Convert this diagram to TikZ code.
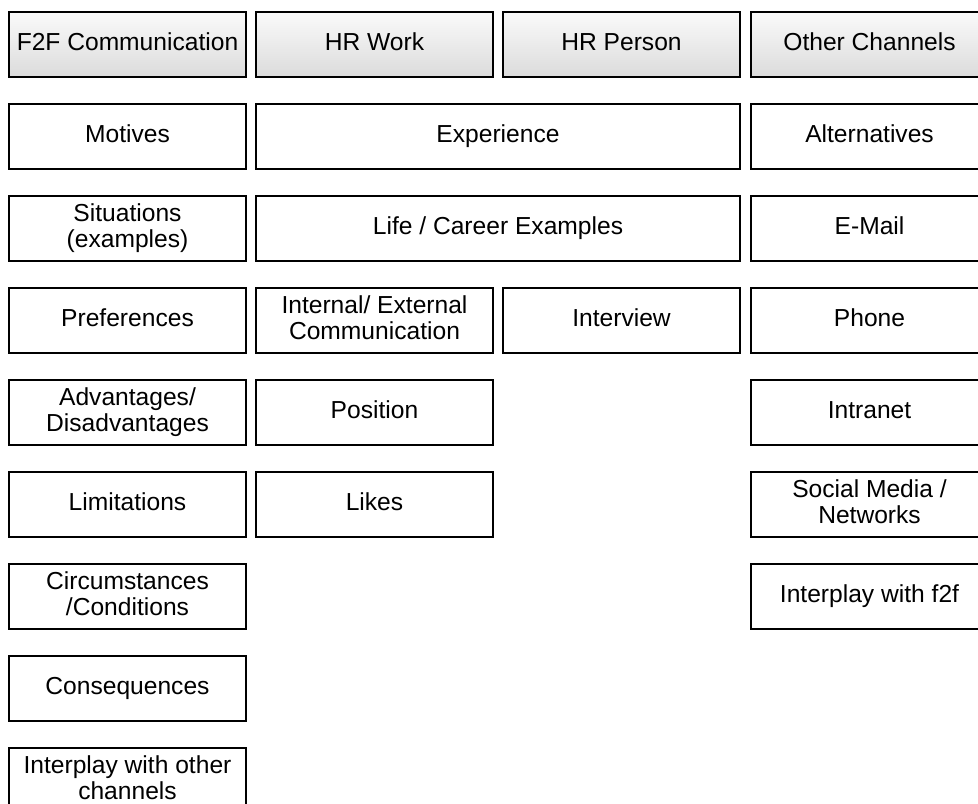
\documentclass[tikz,border=0pt]{standalone}
\usepackage{fontspec}
\setmainfont{Liberation Sans}
\newcommand{\boxstrut}{\rule[-3pt]{0pt}{11.8pt}}
\tikzset{
  box/.style={draw=black, line width=1.2pt, fill=white, minimum width=118.5pt,
    minimum height=32.5pt, align=center, inner sep=1pt,
    font=\fontsize{12.3}{13}\selectfont,
    execute at begin node=\boxstrut, execute at end node=\boxstrut},
  widebox/.style={box, minimum width=242pt},
  headbox/.style={box, top color=gray!4, bottom color=gray!28}
}
\begin{document}
\begin{tikzpicture}[x=0.5pt,y=-0.5pt]
    \useasboundingbox (0,0) rectangle (978,803);
    \clip (0,0) rectangle (978,803);
    % headers
    \node[headbox] (F2F) at (127.5,44.5) {F2F Communication};
    \node[headbox] (HRWork) at (374.5,44.5) {HR Work};
    \node[headbox] (HRPerson) at (621.5,44.5) {HR Person};
    \node[headbox] (Other) at (869.5,44.5) {Other Channels};
    % F2F column
    \node[box] (Motives) at (127.5,136.5) {Motives};
    \node[box] (Situations) at (127.5,228.5) {Situations\\(examples)};
    \node[box] (Preferences) at (127.5,320.5) {Preferences};
    \node[box] (Advantages) at (127.5,412.5) {Advantages/\\Disadvantages};
    \node[box] (Limitations) at (127.5,504.5) {Limitations};
    \node[box] (Circumstances) at (127.5,596.5) {Circumstances\\/Conditions};
    \node[box] (Consequences) at (127.5,688.5) {Consequences};
    \node[box] (InterplayOther) at (127.5,780.5) {Interplay with other\\channels};
    % HR columns
    \node[widebox] (Experience) at (498,136.5) {Experience};
    \node[widebox] (Examples) at (498,228.5) {Life / Career Examples};
    \node[box] (Internal) at (374.5,320.5) {Internal/ External\\Communication};
    \node[box] (Interview) at (621.5,320.5) {Interview};
    \node[box] (Position) at (374.5,412.5) {Position};
    \node[box] (Likes) at (374.5,504.5) {Likes};
    % other channels column
    \node[box] (Alternatives) at (869.5,136.5) {Alternatives};
    \node[box] (EMail) at (869.5,228.5) {E-Mail};
    \node[box] (Phone) at (869.5,320.5) {Phone};
    \node[box] (Intranet) at (869.5,412.5) {Intranet};
    \node[box] (Social) at (869.5,504.5) {Social Media /\\Networks};
    \node[box] (InterplayF2F) at (869.5,596.5) {Interplay with f2f};
\end{tikzpicture}
\end{document}
